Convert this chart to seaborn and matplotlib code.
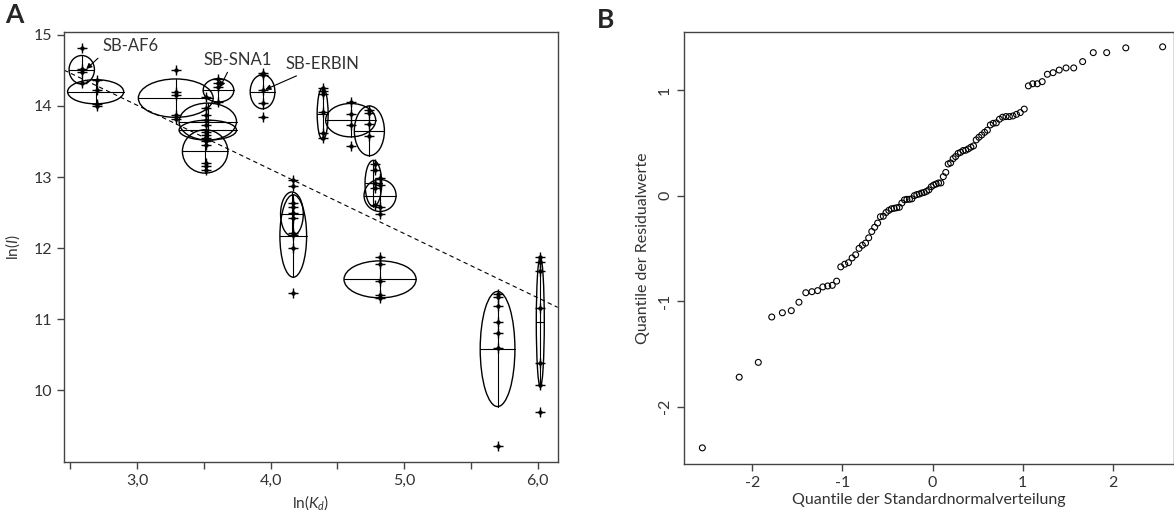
import pandas as pd
import seaborn as sns
import matplotlib.pyplot as plt
from matplotlib.patches import Ellipse

# ---- Panel A data: ln(Kd) vs ln(I) replicate measurements ----
cluster_x = [2.586, 2.70, 3.29, 3.61, 3.52, 3.94, 4.39, 4.60, 4.74, 4.78, 4.82, 4.17, 4.82, 5.70, 6.02]
cluster_y = [
    [14.81, 14.52, 14.48, 14.33],
    [14.36, 14.22, 14.03, 14.00],
    [14.50, 14.20, 14.16, 13.87, 13.82],
    [14.38, 14.32, 14.26, 14.05],
    [14.13, 13.97, 13.87, 13.80, 13.73, 13.64, 13.59, 13.55, 13.50, 13.45, 13.20, 13.15, 13.10],
    [14.47, 14.43, 14.22, 14.04, 13.85],
    [14.25, 14.21, 14.17, 13.92, 13.62, 13.55],
    [14.06, 13.88, 13.73, 13.44],
    [13.95, 13.90, 13.75, 13.58],
    [13.19, 13.10, 12.92, 12.84, 12.61],
    [12.98, 12.89, 12.58, 12.48],
    [12.96, 12.88, 12.63, 12.58, 12.49, 12.42, 12.21, 12.18, 12.00, 11.37],
    [11.88, 11.78, 11.54, 11.34, 11.30],
    [11.36, 11.31, 11.19, 10.96, 10.80, 10.59, 9.21],
    [11.88, 11.81, 11.68, 11.15, 10.38, 10.07, 9.69],
]

# confidence ellipses: centre, width (x), height (y)
ell_x = [2.586, 2.69, 3.29, 3.61, 3.53, 3.53, 3.51, 3.94, 4.39, 4.60, 4.74, 4.77, 4.82, 4.16, 4.17, 4.82, 5.70, 6.02]
ell_y = [14.51, 14.20, 14.11, 14.22, 13.78, 13.66, 13.36, 14.20, 13.89, 13.80, 13.65, 12.91, 12.74, 12.48, 12.17, 11.56, 10.58, 10.96]
ell_w = [0.19, 0.42, 0.56, 0.23, 0.43, 0.43, 0.34, 0.185, 0.082, 0.375, 0.225, 0.125, 0.24, 0.17, 0.20, 0.54, 0.26, 0.06]
ell_h = [0.40, 0.34, 0.54, 0.33, 0.52, 0.28, 0.61, 0.48, 0.73, 0.47, 0.70, 0.65, 0.45, 0.62, 1.16, 0.52, 1.62, 1.83]

fit_slope = -0.903
fit_intercept = 16.72

labels = ["SB-AF6", "SB-SNA1", "SB-ERBIN"]
label_xy = [(2.62, 14.52), (3.62, 14.26), (3.96, 14.23)]
label_text_xy = [(2.74, 14.84), (3.50, 14.65), (4.11, 14.59)]
label_relpos = [(0.0, 0.0), (0.38, 0.0), (0.27, 0.0)]

# ---- Panel B data: normal Q-Q plot of residuals ----
theo_q = [-2.554, -2.145, -1.933, -1.784, -1.666, -1.567, -1.482, -1.406, -1.338, -1.275,
          -1.217, -1.163, -1.112, -1.064, -1.018, -0.974, -0.932, -0.892, -0.853, -0.815,
          -0.778, -0.743, -0.708, -0.674, -0.642, -0.609, -0.578, -0.546, -0.515, -0.485,
          -0.455, -0.426, -0.397, -0.368, -0.340, -0.311, -0.284, -0.256, -0.229, -0.201,
          -0.174, -0.147, -0.120, -0.093, -0.067, -0.040, -0.013, 0.013, 0.040, 0.067,
          0.093, 0.120, 0.147, 0.174, 0.201, 0.229, 0.256, 0.284, 0.311, 0.340,
          0.368, 0.397, 0.426, 0.455, 0.485, 0.515, 0.546, 0.578, 0.609, 0.642,
          0.674, 0.708, 0.743, 0.778, 0.815, 0.853, 0.892, 0.932, 0.974, 1.018,
          1.064, 1.112, 1.163, 1.217, 1.275, 1.338, 1.406, 1.482, 1.567, 1.666,
          1.784, 1.933, 2.145, 2.554]
resid_q = [-2.39, -1.72, -1.58, -1.15, -1.11, -1.09, -1.01, -0.92, -0.91, -0.90,
           -0.865, -0.856, -0.85, -0.81, -0.675, -0.65, -0.635, -0.59, -0.56, -0.50,
           -0.47, -0.45, -0.40, -0.34, -0.30, -0.26, -0.20, -0.195, -0.16, -0.14,
           -0.125, -0.12, -0.115, -0.11, -0.07, -0.04, -0.035, -0.035, -0.03, 0.0,
           0.01, 0.015, 0.025, 0.03, 0.04, 0.055, 0.085, 0.10, 0.11, 0.12,
           0.12, 0.18, 0.22, 0.30, 0.31, 0.35, 0.37, 0.40, 0.41, 0.427,
           0.43, 0.443, 0.459, 0.471, 0.528, 0.553, 0.575, 0.60, 0.62, 0.67,
           0.685, 0.69, 0.724, 0.743, 0.749, 0.749, 0.755, 0.77, 0.787, 0.82,
           1.04, 1.06, 1.06, 1.08, 1.15, 1.165, 1.19, 1.21, 1.21, 1.27,
           1.355, 1.355, 1.40, 1.41]

sns.set_theme(style="ticks")
plt.rcParams['font.family'] = ['Lato', 'DejaVu Sans']
plt.rcParams['mathtext.fontset'] = 'custom'
plt.rcParams['mathtext.rm'] = 'Lato'
plt.rcParams['mathtext.it'] = 'Lato:italic'
plt.rcParams['axes.unicode_minus'] = False

txt = "#333333"
fig = plt.figure(figsize=(11.74, 5.17), dpi=100)
axA = fig.add_axes([0.0545, 0.1064, 0.4205, 0.8316])
axB = fig.add_axes([0.5826, 0.1025, 0.4174, 0.8355])

# Panel A
pts = pd.DataFrame({
    "x": [cx for cx, ys in zip(cluster_x, cluster_y) for _ in ys],
    "y": [y for ys in cluster_y for y in ys],
})
for cx, cy, w, h in zip(ell_x, ell_y, ell_w, ell_h):
    axA.add_patch(Ellipse((cx, cy), w, h, fill=False, ec="black", lw=1.0))
    axA.plot([cx - w / 2, cx + w / 2], [cy, cy], color="black", lw=0.8)
    axA.plot([cx, cx], [cy - h / 2, cy + h / 2], color="black", lw=0.8)
sns.scatterplot(data=pts, x="x", y="y", marker="+", s=60, color="black",
                linewidth=1.0, ax=axA)
sns.scatterplot(data=pts, x="x", y="y", marker=(4, 1, 0), s=28, color="black",
                linewidth=0, ax=axA)
axA.axline((0, fit_intercept), slope=fit_slope, color="black", lw=0.8, ls=(0, (4, 3)))
for lab, xy, xyt, rp in zip(labels, label_xy, label_text_xy, label_relpos):
    axA.annotate(lab, xy=xy, xytext=xyt, fontsize=12, color=txt, ha="left", va="center",
                 arrowprops=dict(arrowstyle="-|>", color="black", lw=0.8,
                                 mutation_scale=8, relpos=rp, shrinkA=1, shrinkB=0))
axA.set_xlim(2.453, 6.15)
axA.set_ylim(8.99, 15.04)
axA.set_xticks([2.5, 3.0, 3.5, 4.0, 4.5, 5.0, 5.5, 6.0])
axA.set_xticklabels(["", "3,0", "", "4,0", "", "5,0", "", "6,0"])
axA.set_yticks([10, 11, 12, 13, 14, 15])
axA.set_xlabel(r"ln($\mathit{K}_{d}$)", fontsize=11, color=txt, labelpad=4)
axA.set_ylabel(r"ln($\mathit{I}$)", fontsize=11, color=txt, labelpad=8)

# Panel B
qq = pd.DataFrame({"theo": theo_q, "resid": resid_q})
sns.scatterplot(data=qq, x="theo", y="resid", marker="o", s=18, facecolor="none",
                edgecolor="black", linewidth=0.8, ax=axB)
axB.set_xlim(-2.758, 2.68)
axB.set_ylim(-2.543, 1.55)
axB.set_xticks([-2, -1, 0, 1, 2])
axB.set_yticks([-2, -1, 0, 1])
for lbl in axB.get_yticklabels():
    lbl.set_rotation(90)
    lbl.set_va("center")
axB.set_xlabel("Quantile der Standardnormalverteilung", fontsize=11.5, color=txt, labelpad=2)
axB.set_ylabel("Quantile der Residualwerte", fontsize=11.5, color=txt, labelpad=6)

for ax in (axA, axB):
    ax.tick_params(direction="out", length=5, width=1, colors="#444444",
                   labelcolor=txt, labelsize=11.5)
    for sp in ax.spines.values():
        sp.set_visible(True)
        sp.set_color("#444444")
        sp.set_linewidth(1.0)

fig.text(0.004, 0.995, "A", fontsize=19, fontweight="bold", va="top", ha="left")
fig.text(0.508, 0.985, "B", fontsize=19, fontweight="bold", va="top", ha="left")

fig.savefig("out.png", dpi=100)
